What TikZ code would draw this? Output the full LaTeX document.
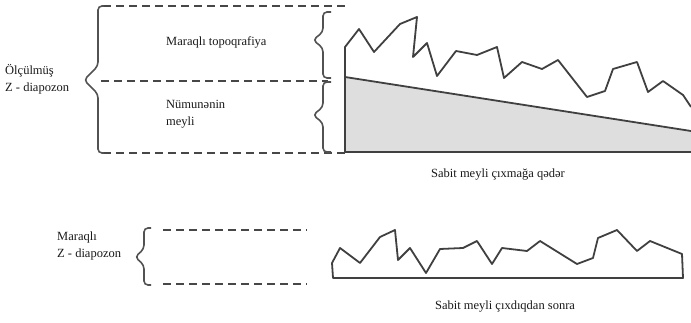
\documentclass[tikz,border=0pt]{standalone}
\usepackage{fontspec}
\setmainfont{Liberation Serif}
\begin{document}
\begin{tikzpicture}[x=1pt,y=-1pt,
  guide/.style={draw=black!72, line width=2.4pt, dash pattern=on 8pt off 5pt},
  bracepath/.style={draw=black!68, line width=1.6pt, rounded corners=4pt},
  profile/.style={draw=black!75, line width=1.8pt, line join=round},
  label/.style={font=\fontsize{12.5}{17}\selectfont, align=left, inner sep=0pt, text=black!90}]
\useasboundingbox (0,0) rectangle (691,323);

% ---- upper panel: measured range before levelling ----
% slope wedge
\fill[black!13] (345,77) -- (691,131) -- (691,152) -- (345,152) -- cycle;
\draw[profile] (345,77) -- (691,131);
% surface profile with base
\draw[profile] (691,152) -- (345,152) -- (345,47) -- (359,29) -- (374,52) -- (400,24)
  -- (417,17) -- (413,57) -- (427,43) -- (437,76) -- (456,51) -- (477,55) -- (497,47)
  -- (504,78) -- (522,62) -- (542,69) -- (558,60) -- (587,97) -- (605,91) -- (613,69)
  -- (637,62) -- (648,92) -- (663,81) -- (683,95) -- (691,107);

% guide lines
\draw[guide] (103,6) -- (345,6);
\draw[guide] (101,81) -- (328,81);
\draw[guide] (103,153) -- (345,153);

% outer brace (whole measured range)
\draw[bracepath] (104,6) -- (98,6) -- (98,66) -- (84,80) -- (98,94) -- (98,153) -- (104,153);
% inner braces (topography / sample tilt)
\draw[bracepath] (331,12) -- (323,12) -- (323,32) -- (313,40) -- (323,48) -- (323,78) -- (331,78);
\draw[bracepath] (331,82) -- (323,82) -- (323,107) -- (313,115) -- (323,123) -- (323,152) -- (331,152);

\node[label, anchor=west] (measured) at (5,79) {Ölçülmüş\\Z - diapozon};
\node[label, anchor=west] (topo) at (166,42) {Maraqlı topoqrafiya};
\node[label, anchor=west] (tilt) at (166,114) {Nümunənin\\meyli};
\node[label] (before) at (498,175) {Sabit meyli çıxmağa qədər};

% ---- lower panel: range of interest after levelling ----
\draw[profile] (683,278) -- (333,278) -- (332,263) -- (340,248) -- (360,263) -- (380,237)
  -- (395,230) -- (398,260) -- (410,248) -- (426,273) -- (440,249) -- (463,248)
  -- (477,241) -- (492,264) -- (502,248) -- (527,251) -- (540,241) -- (577,264)
  -- (593,258) -- (598,238) -- (617,230) -- (637,251) -- (650,241) -- (682,254)
  -- cycle;

\draw[guide] (163,230) -- (307,230);
\draw[guide] (163,284) -- (307,284);
\draw[bracepath] (151,228) -- (144,228) -- (144,249) -- (135,257) -- (144,265) -- (144,285) -- (151,285);

\node[label, anchor=west] (interest) at (57,246) {Maraqlı\\Z - diapozon};
\node[label] (after) at (505,307) {Sabit meyli çıxdıqdan sonra};
\end{tikzpicture}
\end{document}
